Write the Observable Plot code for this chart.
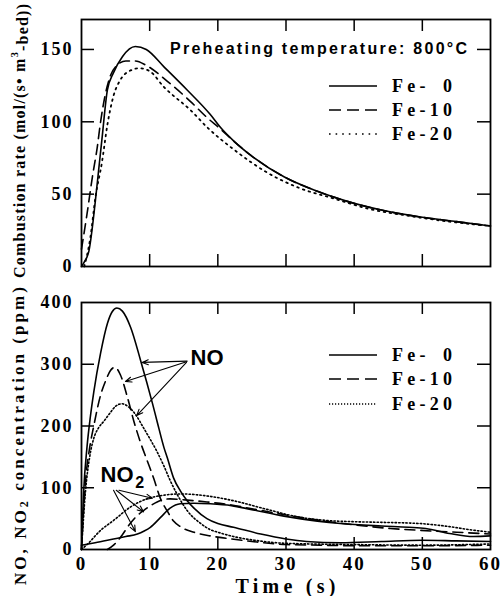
<!DOCTYPE html>
<html><head><meta charset="utf-8">
<script src="https://cdn.jsdelivr.net/npm/d3@7"></script>
<script src="https://cdn.jsdelivr.net/npm/@observablehq/plot@0.6"></script>
<style>
body{margin:0;background:#fff;}
#chart{position:relative;width:502px;height:596px;color:#000;}
#chart svg{position:absolute;left:0;overflow:visible;}
</style></head><body><div id="chart"></div>
<script>
// ---------- data ----------
const timeTicks = [0, 10, 20, 30, 40, 50, 60];
const innerTimeTicks = [10, 20, 30, 40, 50];
const rateTicks = [0, 50, 100, 150];
const concTicks = [0, 100, 200, 300, 400];
const seriesNames = ["Fe-\u20070", "Fe-10", "Fe-20"];

// Combustion rate (mol/(s m3-bed)) vs time (s)
const rateFe0 = [[0,0],[0.4,3],[1.1,11],[2.05,46],[2.5,66],[3,88],[3.8,122],[4.7,134],[6,145],[7.9,152],[9.5,150],[12.1,138],[15.5,122],[18.9,105],[20.4,96],[22.5,86],[24.8,77],[29.7,62],[34.6,52],[39,45],[44,39],[50,34],[55,31],[60,28]];
const rateFe10 = [[0,12],[0.8,36],[1.6,62],[2.3,82],[2.8,100],[3.5,119],[4.25,132],[5.2,139],[6.5,142],[7.9,142],[9.5,139],[12.6,128],[16,114],[18.4,103],[20.4,95],[22.5,86],[24.8,77],[29.7,62],[34.6,52],[39,45],[44,39],[50,34],[55,31],[60,28]];
const rateFe20 = [[0.4,0],[1.3,20],[2.05,48],[3,72],[3.8,98],[4.7,118],[5.7,129],[7,135],[8.5,137],[10,135],[12.1,124],[16,108],[18.7,95],[22.3,81],[27.2,65],[32.1,54],[37,47],[42,40],[48,35],[54,31],[60,28]];

// NO concentration (ppm)
const noFe0 = [[0,0],[0.3,90],[0.8,165],[1.3,215],[1.8,255],[2.8,318],[3.8,366],[4.5,385],[5.2,391],[6,386],[7.2,360],[8.7,305],[10.4,237],[11.1,207],[12.1,165],[12.6,148],[13.5,116],[14.5,95],[15.5,79],[16.5,67],[18.4,50],[20,42],[22.3,36],[26.3,25],[30,17],[33,13],[38,11],[44,13],[50,15],[55,14],[60,13]];
const noFe10 = [[0,0],[0.6,112],[1.2,165],[1.8,200],[2.8,250],[3.5,272],[4.25,290],[4.9,295],[5.7,283],[6.7,248],[7.7,207],[8.7,172],[9.6,145],[10.6,115],[11.6,82],[12.6,62],[13.5,46],[14.5,37],[16.5,28],[18.9,22],[20,20],[22,17],[25,13],[30,8],[35,7],[40,6],[50,6],[60,7]];
const noFe20 = [[0,0],[0.6,96],[1.2,150],[1.8,180],[2.5,197],[3.3,208],[4.25,222],[5,232],[5.9,236],[7,230],[7.9,219],[9.1,197],[10,180],[11.1,158],[12.1,135],[13,112],[14,90],[15.5,63],[17.5,42],[18.9,32],[20,28],[22.3,21],[26,14],[30,10],[40,8],[50,7],[60,9]];

// NO2 concentration (ppm)
const no2Fe0 = [[0,7],[2,11],[4.7,17],[6.5,21],[8.2,25],[9.2,30],[10.1,36],[11.6,52],[13,67],[14.5,74],[16.5,75],[18.9,74],[22,71],[24.8,65],[29.7,54],[34.6,46],[38,42],[44,38],[48,36],[50.5,34],[54,26],[57.5,21],[60,22]];
const no2Fe10 = [[3.8,0],[4.7,7],[6,24],[7,40],[8,53],[9.1,63],[10,70],[11.1,77],[13,82],[15.5,80],[18.4,77],[22,72],[25,66],[30,56],[35,47],[40,40],[45.3,34],[49.7,31],[55,28],[60,25]];
const no2Fe20 = [[0,0],[1,10],[2.8,31],[4.7,47],[7.2,69],[9.6,82],[12.1,88],[14.5,90],[18.9,86],[22.3,79],[27.2,65],[32.1,52],[36,47],[40,45],[44,44],[49.7,42],[54,37],[57,32],[60,28]];

// annotations (data coordinates)
const noLabel = [{t: 16.0, v: 310, s: "NO"}];
const no2Label = [{t: 2.8, v: 120, s: "NO"}];
const no2Sub = [{t: 7.9, v: 108, s: "2"}];
const noArrows = [
  {x1: 15.5, y1: 305, x2: 8.9, y2: 303},
  {x1: 15.4, y1: 304, x2: 6.45, y2: 272},
  {x1: 15.4, y1: 303, x2: 8.1, y2: 217}
];
const no2Arrows = [
  {x1: 5.5, y1: 96, x2: 10.4, y2: 83},
  {x1: 5.1, y1: 96, x2: 9.1, y2: 61},
  {x1: 4.7, y1: 96, x2: 7.9, y2: 29}
];

// ---------- styles ----------
const SERIF = "Liberation Serif, Times New Roman, serif";
const SANS = "Liberation Sans, Arial, sans-serif";
const X = d => d[0], Y = d => d[1];
const base = {x: X, y: Y, stroke: "black", strokeWidth: 1.6, curve: "monotone-x"};
const dashTop = "10,6", dotTop = "1.6,4.4";
const dashBot = "10,6", dotBot = "1.4,2.2";

const PW = 502 - 81 - 12; // plot inner width

function frameMarks(yTicksInner, innerH) {
  return [
    Plot.tickY(yTicksInner, {y: d => d, insetRight: PW - 13, stroke: "black", strokeWidth: 1.5}),
    Plot.tickY(yTicksInner, {y: d => d, insetLeft: PW - 13, stroke: "black", strokeWidth: 1.5}),
    Plot.tickX(innerTimeTicks, {x: d => d, insetBottom: innerH - 12, stroke: "black", strokeWidth: 1.5}),
    Plot.tickX(innerTimeTicks, {x: d => d, insetTop: innerH - 12, stroke: "black", strokeWidth: 1.5}),
    Plot.frame({stroke: "black", strokeWidth: 1.8})
  ];
}

const topPlot = Plot.plot({
  width: 502, height: 280,
  marginLeft: 81, marginRight: 12, marginTop: 19, marginBottom: 14,
  x: {domain: [0, 60], axis: null},
  y: {domain: [0, 170.7], axis: null},
  style: {background: "transparent", color: "black"},
  marks: [
    Plot.axisY(rateTicks, {tickSize: 0, tickPadding: 8, fontSize: 18, fontWeight: "bold", fontFamily: SERIF, label: null}),
    ...frameMarks([50, 100, 150], 247),
    Plot.line(rateFe0, base),
    Plot.line(rateFe10, {...base, strokeDasharray: dashTop}),
    Plot.line(rateFe20, {...base, strokeWidth: 1.8, strokeDasharray: dotTop})
  ]
});

const botPlot = Plot.plot({
  width: 502, height: 316,
  marginLeft: 81, marginRight: 12, marginTop: 22, marginBottom: 47,
  x: {domain: [0, 60], axis: null},
  y: {domain: [0, 400], axis: null},
  style: {background: "transparent", color: "black"},
  marks: [
    Plot.axisY(concTicks, {tickSize: 0, tickPadding: 8, fontSize: 18, fontWeight: "bold", fontFamily: SERIF, label: null}),
    Plot.axisX(timeTicks, {tickSize: 0, tickPadding: 7, fontSize: 19, fontWeight: "bold", fontFamily: SERIF, label: null}),
    ...frameMarks([100, 200, 300], 247),
    Plot.line(noFe0, base),
    Plot.line(noFe10, {...base, strokeDasharray: dashBot}),
    Plot.line(noFe20, {...base, strokeWidth: 1.6, strokeDasharray: dotBot}),
    Plot.line(no2Fe0, base),
    Plot.line(no2Fe10, {...base, strokeDasharray: dashBot}),
    Plot.line(no2Fe20, {...base, strokeWidth: 1.6, strokeDasharray: dotBot}),
    Plot.arrow(noArrows, {x1: "x1", y1: "y1", x2: "x2", y2: "y2", stroke: "black", strokeWidth: 1.1, headLength: 9, headAngle: 45}),
    Plot.arrow(no2Arrows, {x1: "x1", y1: "y1", x2: "x2", y2: "y2", stroke: "black", strokeWidth: 1.1, headLength: 9, headAngle: 45}),
    Plot.text(noLabel, {x: "t", y: "v", text: "s", textAnchor: "start", fontSize: 22, fontWeight: "bold", fontFamily: SANS}),
    Plot.text(no2Label, {x: "t", y: "v", text: "s", textAnchor: "start", fontSize: 22, fontWeight: "bold", fontFamily: SANS}),
    Plot.text(no2Sub, {x: "t", y: "v", text: "s", textAnchor: "start", fontSize: 16, fontWeight: "bold", fontFamily: SANS})
  ]
});

const chart = document.getElementById("chart");
topPlot.style.top = "0px";
botPlot.style.top = "280px";
chart.append(topPlot, botPlot);

// tick label spacing
for (const svg of [topPlot, botPlot]) {
  d3.select(svg).selectAll('g[aria-label="y-axis tick label"] text, g[aria-label="x-axis tick label"] text')
    .style("letter-spacing", "2px");
}

function addText(svg, {x, y, rotate = 0, anchor = "middle", size, family = SERIF, weight = "bold", length, parts}) {
  const t = d3.select(svg).append("text")
    .attr("transform", `translate(${x},${y}) rotate(${rotate})`)
    .attr("text-anchor", anchor)
    .attr("dominant-baseline", "central")
    .attr("font-family", family).attr("font-weight", weight)
    .attr("font-size", size).attr("fill", "black");
  if (length) t.attr("textLength", length).attr("lengthAdjust", "spacing");
  for (const [s, kind] of parts) {
    const sp = t.append("tspan").text(s);
    if (kind === "sup") sp.attr("dy", "-0.45em").attr("font-size", size * 0.65);
    else if (kind === "sub") sp.attr("dy", "0.3em").attr("font-size", size * 0.7);
    else if (kind === "after-sup") sp.attr("dy", "0.45em");
    else if (kind === "after-sub") sp.attr("dy", "-0.3em");
  }
  return t;
}

function legend(svg, rows, x0, x1, tx, dash, dot) {
  const g = d3.select(svg).append("g").attr("text-anchor", "start");
  const styles = [null, dash, dot];
  rows.forEach((yy, i) => {
    g.append("line").attr("x1", x0).attr("x2", x1).attr("y1", yy).attr("y2", yy)
      .attr("stroke", "black").attr("stroke-width", 1.6)
      .attr("stroke-dasharray", styles[i]);
    g.append("text").attr("x", tx).attr("y", yy).attr("dominant-baseline", "central")
      .attr("text-anchor", "start")
      .attr("font-family", SERIF).attr("font-weight", "bold").attr("font-size", 18)
      .attr("textLength", 60).attr("lengthAdjust", "spacing")
      .attr("fill", "black").text(seriesNames[i]);
  });
}

// top panel texts
addText(topPlot, {x: 170, y: 48, anchor: "start", size: 16, family: SANS, length: 297,
  parts: [["Preheating temperature: 800\u00B0C"]]});
addText(topPlot, {x: 19, y: 141, rotate: -90, size: 16, length: 274,
  parts: [["Combustion rate (mol/(s\u2022 m"], ["3", "sup"], ["-bed))", "after-sup"]]});
legend(topPlot, [86, 110, 134], 329, 377, 392, "12,6", "1.6,5");

// bottom panel texts
addText(botPlot, {x: 20, y: 156, rotate: -90, size: 17, length: 298,
  parts: [["NO, NO"], ["2", "sub"], [" concentration (ppm)", "after-sub"]]});
addText(botPlot, {x: 285.5, y: 306, size: 20, length: 100, parts: [["Time (s)"]]});
legend(botPlot, [75, 99, 124], 329, 377, 392, "12,6", "1.2,1.8");
</script></body></html>
